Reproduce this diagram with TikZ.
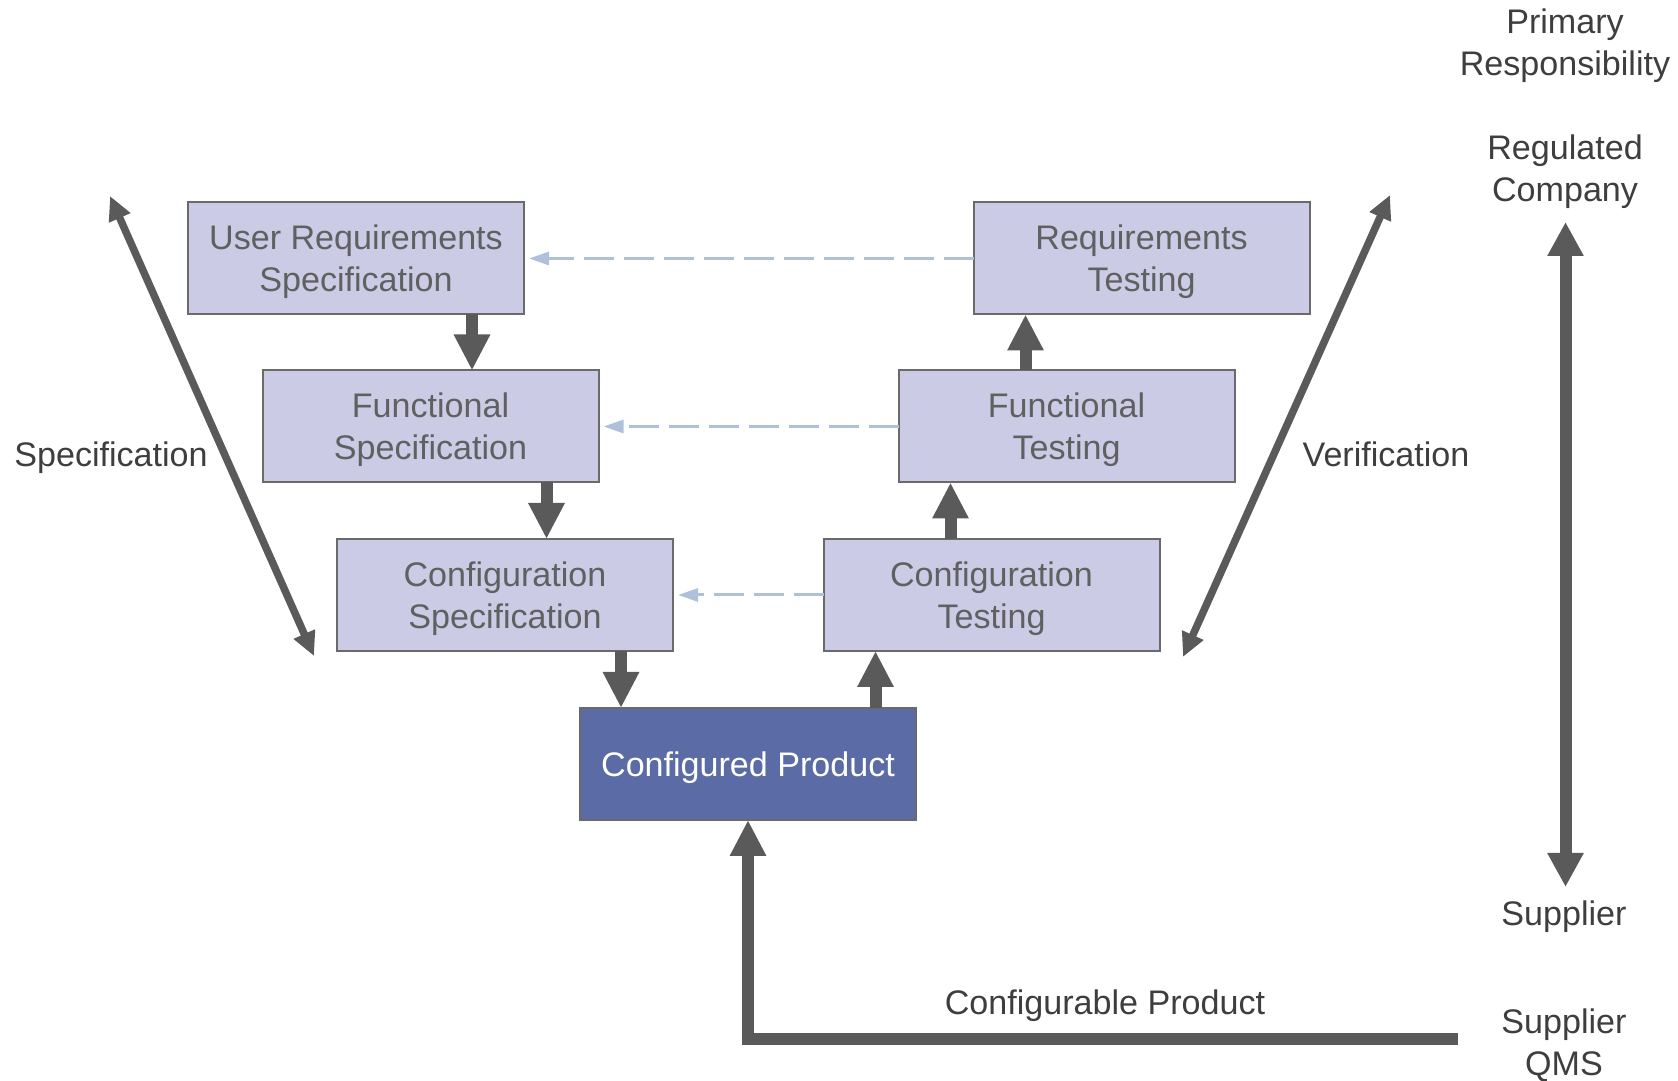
\documentclass[tikz,border=0pt]{standalone}
\usepackage{fontspec}
\setmainfont{Liberation Sans}
\usetikzlibrary{arrows.meta}
\definecolor{boxfill}{HTML}{CBCBE5}
\definecolor{boxline}{HTML}{6A6A6A}
\definecolor{prodfill}{HTML}{5B6BA5}
\definecolor{arrowgray}{HTML}{5A5A5A}
\definecolor{dashblue}{HTML}{AFC1DA}
\definecolor{boxtext}{HTML}{606060}
\definecolor{labeltext}{HTML}{3E3E3E}

\begin{document}
\begin{tikzpicture}[
  every node/.style={font=\fontsize{9.7}{11.9}\selectfont, text=labeltext, align=center, text depth=0pt},
  phase/.style={draw=boxline, line width=0.02cm, fill=boxfill, text=boxtext,
    minimum width=3.36cm, minimum height=1.12cm, inner sep=0pt, outer sep=0pt},
  product/.style={phase, fill=prodfill, text=white},
  flow/.style={draw=arrowgray, line width=0.12cm, -{Triangle[width=0.34cm, length=0.36cm]}},
  trace/.style={draw=dashblue, line width=0.03cm, dash pattern=on 0.3cm off 0.1cm,
    -{Triangle[width=0.13cm, length=0.2cm]}},
  span/.style={draw=arrowgray, line width=0.075cm,
    {Triangle[width=0.22cm, length=0.24cm]}-{Triangle[width=0.22cm, length=0.24cm]}},
  role/.style={draw=arrowgray, line width=0.12cm,
    {Triangle[width=0.34cm, length=0.34cm]}-{Triangle[width=0.34cm, length=0.34cm]}}
]
  \useasboundingbox (0,0) rectangle (16.78,-10.81);

  % Specification side
  \node[phase] (urs) at (3.56,-2.585) {User Requirements\\Specification};
  \node[phase] (fs) at (4.305,-4.265) {Functional\\Specification};
  \node[phase] (cs) at (5.05,-5.95) {Configuration\\Specification};

  % Testing side
  \node[phase] (rt) at (11.415,-2.585) {Requirements\\Testing};
  \node[phase] (ft) at (10.665,-4.265) {Functional\\Testing};
  \node[phase] (ct) at (9.915,-5.95) {Configuration\\Testing};

  \node[product] (cp) at (7.48,-7.64) {Configured Product};

  % Labels
  \node (spec) at (1.11,-4.54) {Specification};
  \node (verif) at (13.86,-4.54) {Verification};
  \node (resp) at (15.65,-0.42) {Primary\\Responsibility};
  \node (regco) at (15.65,-1.685) {Regulated\\Company};
  \node (supp) at (15.64,-9.13) {Supplier};
  \node (qms) at (15.64,-10.42) {Supplier\\QMS};
  \node (cfg) at (11.05,-10.02) {Configurable Product};

  % Down the left
  \draw[flow] ([xshift=-0.52cm]urs.south east) -- ([xshift=-0.52cm]urs.south east |- fs.north);
  \draw[flow] ([xshift=-0.52cm]fs.south east) -- ([xshift=-0.52cm]fs.south east |- cs.north);
  \draw[flow] ([xshift=-0.52cm]cs.south east) -- ([xshift=-0.52cm]cs.south east |- cp.north);

  % Up the right
  \draw[flow] ([xshift=0.52cm]ct.south west |- cp.north) -- ([xshift=0.52cm]ct.south west);
  \draw[flow] ([xshift=0.52cm]ft.south west |- ct.north) -- ([xshift=0.52cm]ft.south west);
  \draw[flow] ([xshift=0.52cm]rt.south west |- ft.north) -- ([xshift=0.52cm]rt.south west);

  % Traceability
  \draw[trace] (rt.west) -- ([xshift=0.05cm]urs.east);
  \draw[trace] (ft.west) -- ([xshift=0.05cm]fs.east);
  \draw[trace] (ct.west) -- ([xshift=0.05cm]cs.east);

  % Side arrows
  \coordinate (specTop) at (1.10,-1.96);
  \coordinate (specBot) at (3.14,-6.56);
  \coordinate (verifTop) at (13.90,-1.95);
  \coordinate (verifBot) at (11.83,-6.57);
  \coordinate (roleTop) at (15.655,-2.22);
  \coordinate (roleBot) at (15.655,-8.87);
  \draw[span] (specTop) -- (specBot);
  \draw[span] (verifTop) -- (verifBot);
  \draw[role] (roleTop) -- (roleBot);

  % Supplier input
  \coordinate (qmsEnd) at (14.58,-10.39);
  \draw[flow] (qmsEnd) -- (qmsEnd -| cp.south) -- (cp.south);
\end{tikzpicture}
\end{document}
